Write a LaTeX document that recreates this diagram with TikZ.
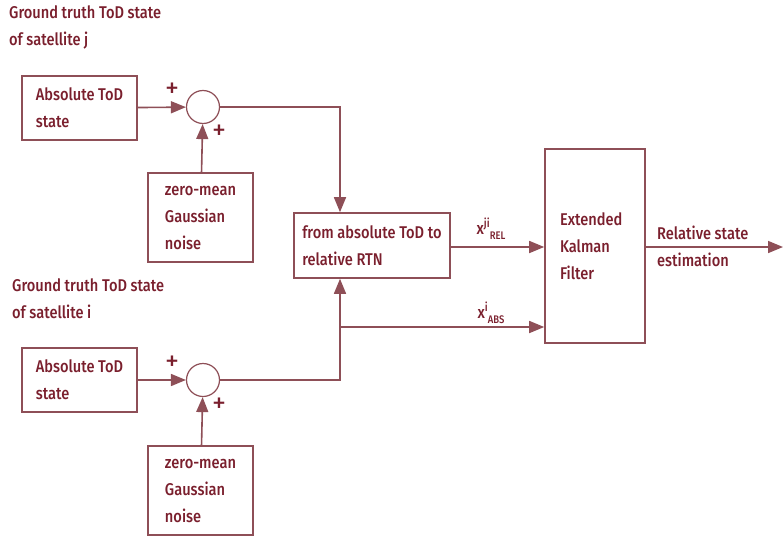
\documentclass[tikz,border=0pt]{standalone}
\usepackage{fontspec}
\setmainfont{Fira Sans}[UprightFont={* Medium}, FakeStretch=0.86]
\newfontfamily\signfont{Fira Sans}
\usepackage{tikz}
\usetikzlibrary{shapes}
\usetikzlibrary{arrows.meta}
\definecolor{inkred}{HTML}{7A1F2D}
\definecolor{wirered}{HTML}{8E4F57}
\newcommand{\supsub}[2]{x\raisebox{7pt}{\fontsize{12}{12}\selectfont #1}\raisebox{-5pt}{\fontsize{11}{11}\selectfont #2}}
\tikzset{
  blocknode/.style = {rectangle, draw=wirered, line width=1.6pt, inner sep=0pt,
    align=left, text=inkred, font=\fontsize{17}{27}\selectfont},% bloc du schema
  sumnode/.style = {circle, draw=wirered, line width=1.2pt, fill=white,
    minimum size=33pt, inner sep=0pt},% sommateur
  plainlabel/.style = {align=left, text=inkred, inner sep=0pt,
    font=\fontsize{17}{27}\selectfont},% texte libre
  signlabel/.style = {text=inkred, inner sep=0pt, font=\signfont\fontsize{28}{28}\selectfont},% signe +
  wire/.style = {draw=wirered, line width=1.6pt},% liaison
  flow/.style = {wire, -{Triangle[length=15pt,width=12pt]}}% liaison flechee
}
\begin{document}
\begin{tikzpicture}[x=1pt, y=-1pt]
  \useasboundingbox (0,0) rectangle (783,538);
  % satellite j
  \node [plainlabel, anchor=north west] (titlej) at (9,5) {Ground truth ToD state\\of satellite j};
  \node [blocknode, minimum width=115pt, minimum height=64pt] (absj) at (79.5,108) {Absolute ToD\\state};
  \node [sumnode] (sumj) at (203,107) {};
  \node [blocknode, minimum width=105pt, minimum height=89pt] (noisej) at (200.5,217.5) {zero-mean\\Gaussian\\noise};
  \node [signlabel] (plusja) at (172,90) {+};
  \node [signlabel] (plusjb) at (219,132) {+};
  % satellite i
  \node [plainlabel, anchor=north west] (titlei) at (12,278) {Ground truth ToD state\\of satellite i};
  \node [blocknode, minimum width=115pt, minimum height=64pt] (absi) at (79.5,380) {Absolute ToD\\state};
  \node [sumnode] (sumi) at (203,380) {};
  \node [blocknode, minimum width=105pt, minimum height=89pt] (noisei) at (200.5,490.5) {zero-mean\\Gaussian\\noise};
  \node [signlabel] (plusia) at (172,363) {+};
  \node [signlabel] (plusib) at (219,405) {+};
  % conversion et filtre
  \node [blocknode, minimum width=156pt, minimum height=65pt] (rtn) at (372,245.5) {from absolute ToD to\\relative RTN};
  \node [blocknode, minimum width=100pt, minimum height=194pt, text width=70pt] (ekf) at (595,246) {Extended\\Kalman\\Filter};
  \coordinate (branch) at (340,327);
  \coordinate (outend) at (783,247);
  \node [plainlabel] (relj) at (491,229) {\supsub{ji}{REL}};
  \node [plainlabel] (absl) at (491,313) {\supsub{i}{ABS}};
  \node [plainlabel, anchor=west] (outlbl) at (657,246.5) {Relative state\\estimation};
  % liaisons
  \draw [flow] (absj) -- (sumj);
  \draw [flow] (noisej) -- (sumj);
  \draw [flow] (sumj.east) -| (branch |- rtn.north);
  \draw [flow] (absi) -- (sumi);
  \draw [flow] (noisei) -- (sumi);
  \draw [flow] (sumi.east) -| (branch |- rtn.south);
  \draw [flow] (branch) -- (branch -| ekf.west);
  \draw [flow] (rtn.east |- outend) -- (ekf.west |- outend);
  \draw [flow] (ekf.east |- outend) -- (outend);
\end{tikzpicture}
\end{document}
